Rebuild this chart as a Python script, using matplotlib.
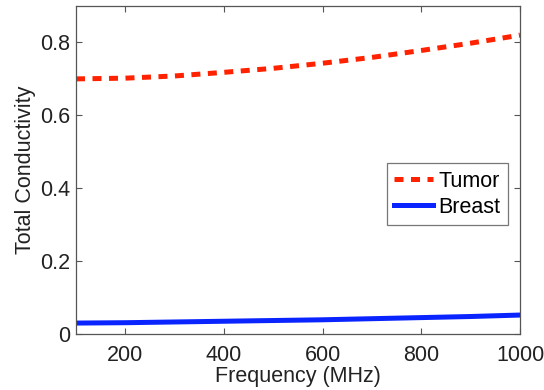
import matplotlib
matplotlib.use("Agg")
import matplotlib.pyplot as plt

plt.rcParams['font.family'] = ['Liberation Sans', 'DejaVu Sans']

freq_mhz = [100, 200, 300, 400, 500, 600, 700, 800, 900, 1000]
tumor = [0.700, 0.702, 0.708, 0.718, 0.729, 0.743, 0.759, 0.778, 0.798, 0.820]
breast = [0.030, 0.031, 0.033, 0.035, 0.037, 0.039, 0.042, 0.045, 0.048, 0.052]

fig = plt.figure(figsize=(5.44, 3.90), dpi=100)
ax = fig.add_axes([76/544, 1 - 334/390, (520-76)/544, (334-6)/390])

ax.plot(freq_mhz, tumor, color='#ff2200', lw=3.6, ls=(0, (1.8, 1.5)), label='Tumor')
ax.plot(freq_mhz, breast, color='#0a24ff', lw=3.6, label='Breast')

ax.set_xlim(100, 1000)
ax.set_ylim(0, 0.9)
ax.set_xticks([200, 400, 600, 800, 1000])
ax.set_yticks([0, 0.2, 0.4, 0.6, 0.8])
ax.set_yticklabels(['0', '0.2', '0.4', '0.6', '0.8'])
ax.tick_params(direction='in', top=True, right=True, length=4, width=0.8,
               color='#555555', labelsize=15.5, labelcolor='#222222')
ax.tick_params(axis='x', pad=8)
ax.tick_params(axis='y', pad=4)
for s in ax.spines.values():
    s.set_color('#555555')
    s.set_linewidth(0.9)

ax.set_xlabel('Frequency (MHz)', fontsize=15.5, color='#222222', labelpad=0)
ax.set_ylabel('Total Conductivity', fontsize=15.5, color='#222222', labelpad=3)

leg = ax.legend(loc='upper right', bbox_to_anchor=(432/444, 171/328), fontsize=15.5,
                frameon=True, fancybox=False, handlelength=1.8, handletextpad=0.25,
                borderpad=0.35, labelspacing=0.25, borderaxespad=0)
leg.get_frame().set_edgecolor('#555555')
leg.get_frame().set_linewidth(0.9)

fig.savefig('out.png', dpi=100)
